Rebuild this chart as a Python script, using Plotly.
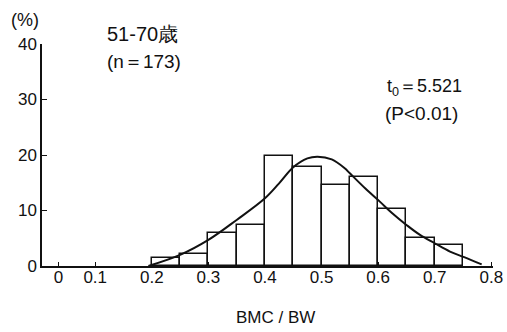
import plotly.graph_objects as go

# Histogram: BMC/BW bins (left edges, width 0.05) and percentages
bin_start = [0.20, 0.25, 0.30, 0.35, 0.40, 0.45, 0.50, 0.55, 0.60, 0.65, 0.70]
bin_width = 0.05
pct = [1.4, 2.2, 6.0, 7.3, 19.8, 17.9, 14.6, 16.0, 10.2, 5.1, 3.7]

# Fitted curve
curve_x = [0.194, 0.25, 0.30, 0.35, 0.40, 0.425, 0.45, 0.475, 0.493, 0.518,
           0.541, 0.55, 0.577, 0.603, 0.625, 0.65, 0.674, 0.70, 0.727, 0.752, 0.783]
curve_y = [0.0, 2.0, 4.7, 8.3, 12.2, 14.9, 17.8, 19.4, 19.7, 19.2,
           17.6, 16.7, 14.0, 11.6, 9.5, 7.4, 5.6, 4.1, 2.6, 1.6, 0.3]

x_tickvals = [0.035, 0.1, 0.2, 0.3, 0.4, 0.5, 0.6, 0.7, 0.8]
x_ticktext = ["0", "0.1", "0.2", "0.3", "0.4", "0.5", "0.6", "0.7", "0.8"]
y_tickvals = [0, 10, 20, 30, 40]

FONT = "Liberation Sans Narrow, Liberation Sans, Arial, sans-serif"
INK = "#111111"

fig = go.Figure()
fig.add_trace(go.Bar(
    x=bin_start, y=pct, width=bin_width, offset=0,
    marker=dict(color="white", line=dict(color=INK, width=1.5)),
    showlegend=False, hoverinfo="skip"))
fig.add_trace(go.Scatter(
    x=curve_x, y=curve_y, mode="lines",
    line=dict(color=INK, width=2, shape="spline", smoothing=1.0),
    showlegend=False, hoverinfo="skip"))

fig.update_layout(
    width=507, height=332,
    margin=dict(l=42, r=14, t=44, b=66, autoexpand=False),
    paper_bgcolor="white", plot_bgcolor="white",
    font=dict(family=FONT, color=INK, size=17),
    bargap=0,
    xaxis=dict(range=[0.006, 0.803], tickvals=x_tickvals, ticktext=x_ticktext,
               showline=True, linecolor=INK, linewidth=1.5, ticks="inside",
               ticklen=4, tickcolor=INK, showgrid=False, zeroline=False,
               automargin=False, ticklabelstandoff=-5,
               tickfont=dict(size=17, family=FONT, color=INK)),
    yaxis=dict(range=[0, 40], tickvals=y_tickvals, showline=True, linecolor=INK,
               linewidth=1.5, ticks="inside", ticklen=5, tickcolor=INK,
               showgrid=False, zeroline=False, automargin=False,
               tickfont=dict(size=17, family=FONT, color=INK)),
    annotations=[
        dict(text="(%)", xref="paper", yref="paper", x=-0.038, y=1.108,
             xanchor="center", yanchor="middle", showarrow=False,
             font=dict(size=18)),
        dict(text="51-70歳", xref="paper", yref="paper", x=0.14, y=1.045,
             xanchor="left", yanchor="middle", showarrow=False,
             font=dict(size=20)),
        dict(text="(n＝173)", xref="paper", yref="paper", x=0.14, y=0.919,
             xanchor="left", yanchor="middle", showarrow=False,
             font=dict(size=19)),
        dict(text="t<sub>0</sub>＝5.521", xref="paper", yref="paper", x=0.76, y=0.806,
             xanchor="left", yanchor="middle", showarrow=False,
             font=dict(size=18)),
        dict(text="(P<0.01)", xref="paper", yref="paper", x=0.756, y=0.689,
             xanchor="left", yanchor="middle", showarrow=False,
             font=dict(size=19)),
        dict(text="BMC / BW", xref="paper", yref="paper", x=0.517, y=-0.234,
             xanchor="center", yanchor="middle", showarrow=False,
             font=dict(size=17)),
    ],
)

fig.write_html("out.html", config={"displayModeBar": False},
               post_script="document.body.style.margin='0px';")
